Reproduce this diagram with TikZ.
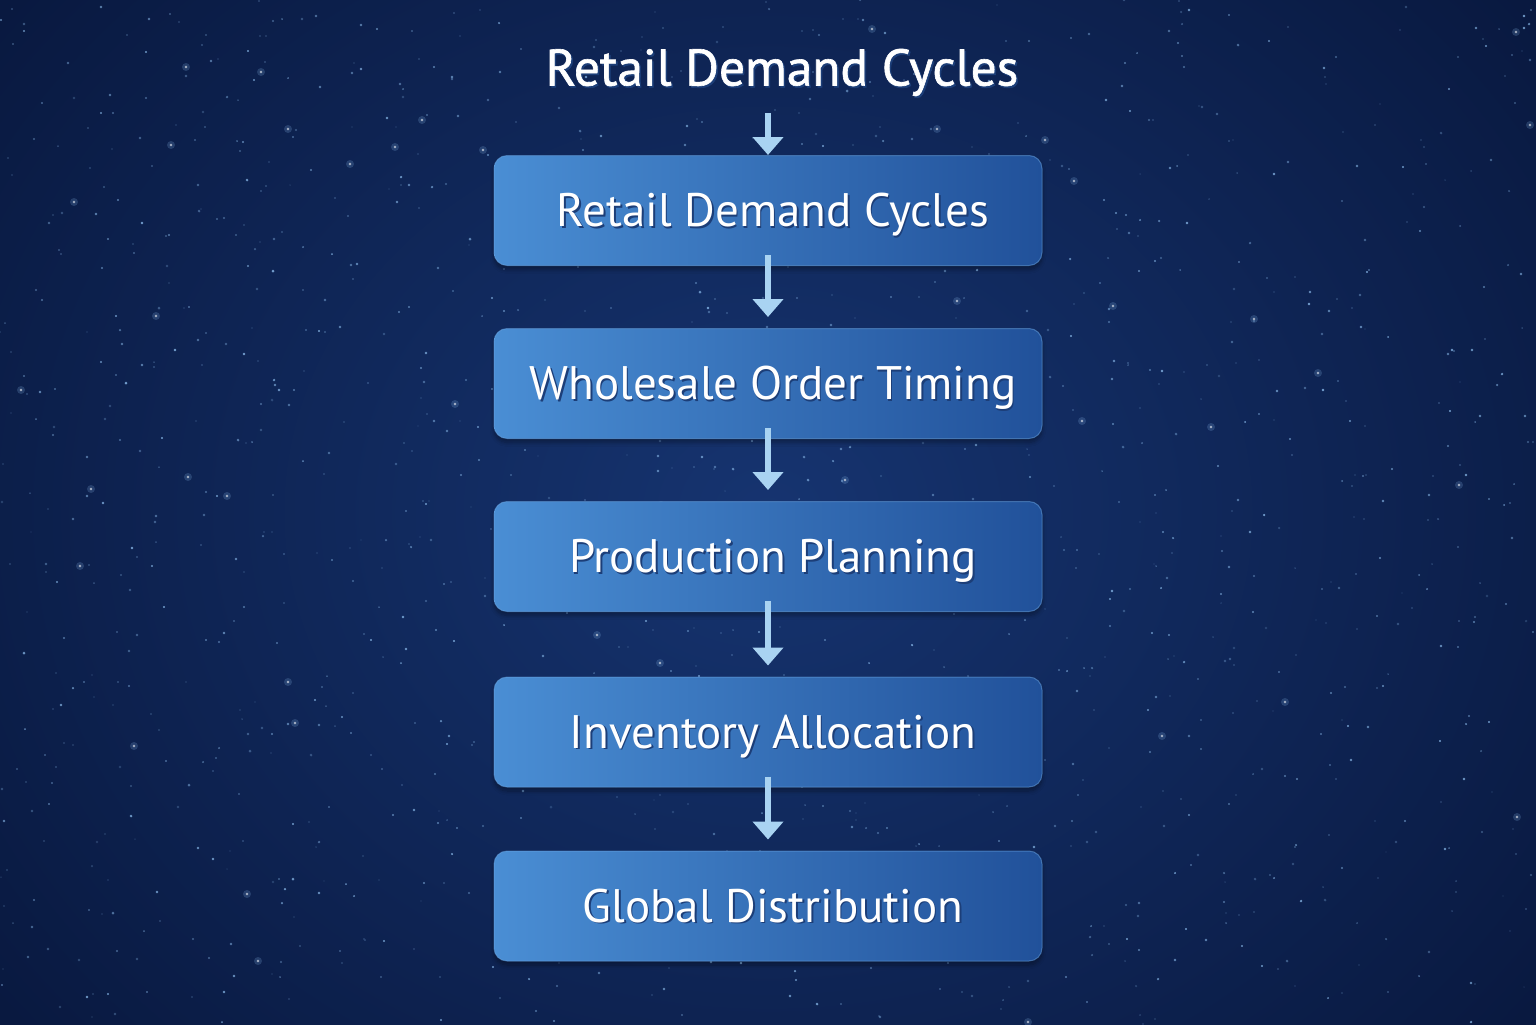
\documentclass[tikz,border=0pt]{standalone}
\usepackage{fontspec}
\setmainfont{PT Sans}
\newfontfamily\titlefont[FakeBold=1.2]{PT Sans}
\usetikzlibrary{arrows.meta,shadows.blur}
\definecolor{bgIn}{HTML}{163470}
\definecolor{bgOut}{HTML}{091940}
\definecolor{boxL}{HTML}{4A8ED4}
\definecolor{boxR}{HTML}{21519A}
\definecolor{boxEdge}{HTML}{6AA6E4}
\definecolor{arrC}{HTML}{A9D3F2}
\definecolor{starC}{HTML}{8FC0F0}
\definecolor{txtSh}{HTML}{1C3E78}
\newcommand\shtext[1]{\makebox[0pt][l]{\raisebox{-0.9pt}{\kern0.8pt\textcolor{txtSh}{#1}}}#1}
\newcommand\boxtext[1]{\hspace*{5pt}\shtext{#1}}
\tikzset{
  stagebox/.style={rounded corners=6.5pt, minimum width=274pt, minimum height=55pt,
    left color=boxL, right color=boxR, draw=boxEdge, draw opacity=0.5, line width=0.5pt,
    text=white, font=\fontsize{23.5}{28}\selectfont, text height=17.5pt, text depth=1.5pt,
    blur shadow={shadow blur steps=8, shadow xshift=0pt, shadow yshift=-2pt, shadow opacity=35}},
  flowarrow/.style={draw=arrC, line width=2.6pt, -{Triangle[width=15pt,length=9pt]}},
  titlestyle/.style={text=white, font=\titlefont\fontsize{25.7}{30}\selectfont, text height=18pt, text depth=1.5pt}
}
\begin{document}
\begin{tikzpicture}[x=0.5pt,y=-0.5pt]
\useasboundingbox (0,0) rectangle (1536,1024);
% background
\fill[bgOut] (0,0) rectangle (1536,1024);
\shade[inner color=bgIn, outer color=bgOut] (-200,-300) rectangle (1736,1324);
% stars
\pgfmathsetseed{7}
\foreach \i in {1,...,1300}{
  \pgfmathsetmacro\sx{random(0,1536)}
  \pgfmathsetmacro\sy{random(0,1024)}
  \pgfmathsetmacro\so{0.2+0.6*rnd}
  \pgfmathsetmacro\sr{0.3+0.45*rnd}
  \fill[starC, opacity=\so] (\sx,\sy) circle (\sr pt);
}
\foreach \i in {1,...,50}{
  \pgfmathsetmacro\sx{random(0,1536)}
  \pgfmathsetmacro\sy{random(0,1024)}
  \fill[starC, opacity=0.2] (\sx,\sy) circle (2pt);
  \fill[white, opacity=0.6] (\sx,\sy) circle (0.7pt);
}
% title
\node[titlestyle] (title) at (782,69) {\shtext{Retail Demand Cycles}};
\coordinate (a0) at (768,113);
% boxes
\node[stagebox] (b1) at (768,210.5) {\boxtext{Retail Demand Cycles}};
\node[stagebox] (b2) at (768,383.5) {\boxtext{Wholesale Order Timing}};
\node[stagebox] (b3) at (768,556.5) {\boxtext{Production Planning}};
\node[stagebox] (b4) at (768,732) {\boxtext{Inventory Allocation}};
\node[stagebox] (b5) at (768,906) {\boxtext{Global Distribution}};
% arrows
\draw[flowarrow] (a0) -- (b1.north);
\foreach \a/\b in {b1/b2,b2/b3,b3/b4,b4/b5}{
  \draw[flowarrow] ([yshift=5.5pt]\a.south) -- ([yshift=5.5pt]\b.north);
}
\end{tikzpicture}
\end{document}
